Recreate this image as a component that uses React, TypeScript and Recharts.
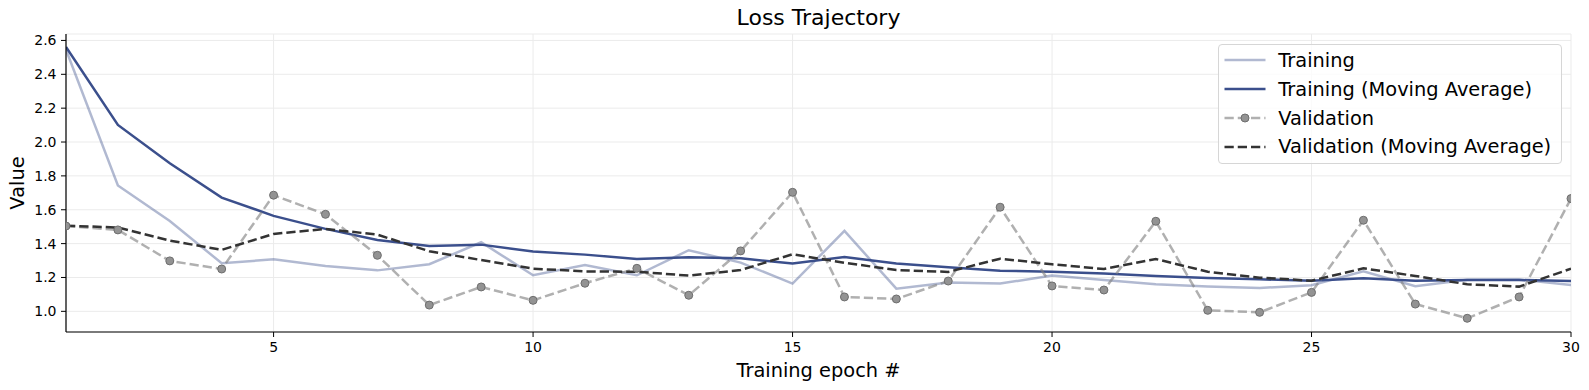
import { LineChart, Line, XAxis, YAxis, CartesianGrid, Legend, Label } from 'recharts';

const EPOCHS = [1, 2, 3, 4, 5, 6, 7, 8, 9, 10, 11, 12, 13, 14, 15, 16, 17, 18, 19, 20, 21, 22, 23, 24, 25, 26, 27, 28, 29, 30];

const TRAINING = [
  2.545, 1.743, 1.534, 1.284, 1.307, 1.268, 1.242, 1.278, 1.408, 1.213,
  1.274, 1.213, 1.361, 1.288, 1.164, 1.475, 1.134, 1.171, 1.164, 1.211,
  1.185, 1.16, 1.146, 1.138, 1.154, 1.236, 1.148, 1.186, 1.188, 1.156,
];

const TRAINING_MA = [
  2.561, 2.101, 1.875, 1.672, 1.564, 1.487, 1.422, 1.386, 1.394, 1.353,
  1.335, 1.309, 1.319, 1.313, 1.282, 1.321, 1.282, 1.26, 1.24, 1.234,
  1.223, 1.209, 1.197, 1.189, 1.181, 1.195, 1.181, 1.185, 1.185, 1.179,
];

const VALIDATION = [
  1.504, 1.481, 1.298, 1.25, 1.686, 1.573, 1.331, 1.037, 1.144, 1.065,
  1.166, 1.254, 1.095, 1.357, 1.703, 1.085, 1.073, 1.179, 1.615, 1.15,
  1.126, 1.532, 1.006, 0.994, 1.112, 1.538, 1.043, 0.959, 1.085, 1.666,
];

const VALIDATION_MA = [
  1.506, 1.495, 1.418, 1.363, 1.457, 1.487, 1.453, 1.355, 1.303, 1.252,
  1.236, 1.234, 1.211, 1.244, 1.337, 1.287, 1.244, 1.233, 1.311, 1.278,
  1.25, 1.309, 1.234, 1.199, 1.181, 1.254, 1.209, 1.16, 1.146, 1.252,
];

const X_TICKS = [5, 10, 15, 20, 25, 30];
const Y_TICKS = [1.0, 1.2, 1.4, 1.6, 1.8, 2.0, 2.2, 2.4, 2.6];

const FONT = '"DejaVu Sans", sans-serif';
const BLUE = '#3b4f8c';
const GRAY = '#808080';
const DARK = '#333333';

const data = EPOCHS.map((epoch, i) => ({
  epoch,
  training: TRAINING[i],
  trainingMA: TRAINING_MA[i],
  validation: VALIDATION[i],
  validationMA: VALIDATION_MA[i],
}));

const LEGEND_ITEMS = [
  { label: 'Training', stroke: BLUE, opacity: 0.4, dash: undefined, marker: false },
  { label: 'Training (Moving Average)', stroke: BLUE, opacity: 1, dash: undefined, marker: false },
  { label: 'Validation', stroke: GRAY, opacity: 0.62, dash: '9.25 4', marker: true },
  { label: 'Validation (Moving Average)', stroke: DARK, opacity: 1, dash: '9.25 4', marker: false },
];

function LossLegend() {
  return (
    <div
      style={{
        position: 'absolute',
        left: 1218,
        top: 44,
        width: 344,
        height: 120,
        boxSizing: 'border-box',
        border: '1px solid #d6d6d6',
        borderRadius: 4,
        background: 'rgba(255,255,255,0.8)',
        fontFamily: FONT,
        fontSize: 19.4,
        color: '#000',
      }}
    >
      {LEGEND_ITEMS.map((item, i) => (
        <div
          key={item.label}
          style={{
            position: 'absolute',
            left: 5,
            top: 16.5 + 28.7 * i - 14.3 - 1,
            height: 28.6,
            display: 'flex',
            alignItems: 'center',
            whiteSpace: 'nowrap',
          }}
        >
          <svg width={42} height={12} style={{ display: 'block' }}>
            <line
              x1={0.5}
              y1={6}
              x2={41.5}
              y2={6}
              stroke={item.stroke}
              strokeOpacity={item.opacity}
              strokeWidth={2.5}
              strokeDasharray={item.dash}
            />
            {item.marker && <circle cx={21} cy={6} r={4} fill="#939393" stroke="#6e6e6e" strokeWidth={1} />}
          </svg>
          <span style={{ marginLeft: 12.3, lineHeight: '19.4px', position: 'relative', top: 0.6 }}>{item.label}</span>
        </div>
      ))}
    </div>
  );
}

export default function App() {
  return (
    <div style={{ position: 'absolute', left: 0, top: 0, width: 1589, height: 390, background: '#fff', fontFamily: FONT }}>
      <div
        style={{
          position: 'absolute',
          left: 66,
          width: 1505,
          top: 7.4,
          textAlign: 'center',
          fontSize: 22,
          lineHeight: '22px',
          color: '#000',
          whiteSpace: 'nowrap',
        }}
      >
        Loss Trajectory
      </div>
      <LineChart width={1589} height={390} data={data} margin={{ top: 34, right: 18, bottom: 0, left: 0 }}>
        <CartesianGrid stroke="#ebebeb" strokeWidth={1} />
        <XAxis
          dataKey="epoch"
          type="number"
          domain={[1, 30]}
          ticks={X_TICKS}
          allowDataOverflow
          height={58}
          axisLine={{ stroke: '#000', strokeWidth: 1.2 }}
          tickSize={5}
          tickMargin={5}
          tick={{ fill: '#000', fontSize: 14, fontFamily: FONT }}
          tickLine={{ stroke: '#000' }}
        >
          <Label value="Training epoch #" position="insideBottom" offset={13.5} style={{ fontSize: 19.4, fill: '#000', fontFamily: FONT }} />
        </XAxis>
        <YAxis
          type="number"
          domain={[0.878, 2.638]}
          ticks={Y_TICKS}
          allowDataOverflow
          width={66}
          axisLine={{ stroke: '#000', strokeWidth: 1.2 }}
          tickSize={5}
          tickMargin={4.5}
          tickFormatter={(v: number) => v.toFixed(1)}
          tick={{ fill: '#000', fontSize: 14, fontFamily: FONT }}
          tickLine={{ stroke: '#000' }}
        >
          <Label
            value="Value"
            angle={-90}
            position="insideLeft"
            offset={17.5}
            style={{ fontSize: 19.4, fill: '#000', fontFamily: FONT, textAnchor: 'middle' }}
          />
        </YAxis>
        <Legend
          layout="horizontal"
          verticalAlign="middle"
          content={() => <LossLegend />}
          wrapperStyle={{ left: 0, top: 0, width: 0, height: 0 }}
        />
        <Line
          dataKey="training"
          stroke={BLUE}
          strokeOpacity={0.4}
          strokeWidth={2.5}
          dot={false}
          activeDot={false}
          isAnimationActive={false}
        />
        <Line
          dataKey="trainingMA"
          stroke={BLUE}
          strokeWidth={2.5}
          dot={false}
          activeDot={false}
          isAnimationActive={false}
        />
        <Line
          dataKey="validation"
          stroke={GRAY}
          strokeOpacity={0.62}
          strokeWidth={2.5}
          strokeDasharray="9.25 4"
          dot={{ r: 4, fill: '#939393', stroke: '#6e6e6e', strokeWidth: 1, strokeOpacity: 1, strokeDasharray: 'none' }}
          activeDot={false}
          isAnimationActive={false}
        />
        <Line
          dataKey="validationMA"
          stroke={DARK}
          strokeWidth={2.5}
          strokeDasharray="9.25 4"
          dot={false}
          activeDot={false}
          isAnimationActive={false}
        />
      </LineChart>
    </div>
  );
}
